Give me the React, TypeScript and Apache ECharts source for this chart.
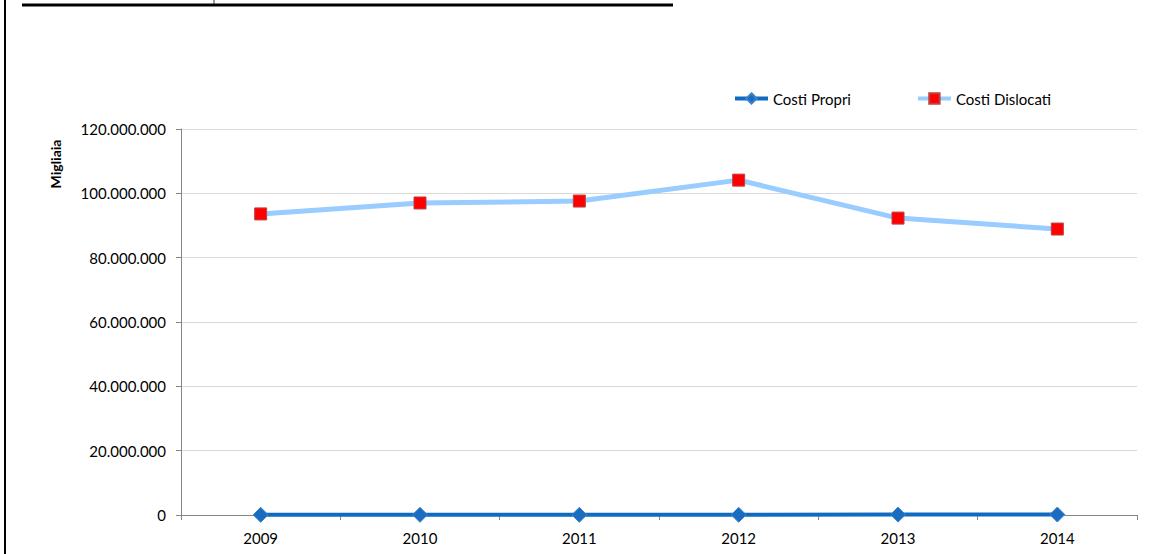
import React, { useEffect, useRef } from "react";
import * as echarts from "echarts";

const years = ["2009", "2010", "2011", "2012", "2013", "2014"];
const costiPropri = [60000, 60000, 50000, 60000, 120000, 140000];
const costiDislocati = [93600000, 97000000, 97600000, 104100000, 92300000, 88900000];
const yTicks = { min: 0, max: 120000000, interval: 20000000 };

const fmt = (v: number) => String(Math.round(v)).replace(/\B(?=(\d{3})+(?!\d))/g, ".");

export default function App() {
  const ref = useRef<HTMLDivElement>(null);
  useEffect(() => {
    if (!ref.current) return;
    const chart = echarts.init(ref.current, undefined, { renderer: "svg" });
    const font = "Lato, 'Open Sans', sans-serif";
    chart.setOption({
      animation: false,
      textStyle: { fontFamily: font },
      grid: { left: 181, right: 22, top: 129, bottom: 39 },
      legend: {
        left: 728,
        top: 86,
        itemWidth: 33,
        itemHeight: 13,
        itemGap: 65,
        lineStyle: { width: 4 },
        textStyle: { fontSize: 15, color: "#000", fontFamily: font },
        data: ["Costi Propri", "Costi Dislocati"],
      },
      xAxis: {
        type: "category",
        data: years,
        boundaryGap: true,
        axisLine: { lineStyle: { color: "#868686", width: 1 } },
        axisTick: { show: true, length: 5, inside: false, lineStyle: { color: "#868686" } },
        axisLabel: { color: "#000", fontSize: 15, margin: 15, fontFamily: font },
      },
      yAxis: {
        type: "value",
        min: yTicks.min,
        max: yTicks.max,
        interval: yTicks.interval,
        axisLine: { show: true, lineStyle: { color: "#868686" } },
        axisTick: { show: true, length: 5, lineStyle: { color: "#868686" } },
        splitLine: { lineStyle: { color: "#d9d9d9", width: 1 } },
        axisLabel: { color: "#000", fontSize: 15, margin: 15, fontFamily: font, formatter: fmt },
      },
      graphic: [
        { type: "line", shape: { x1: 22, y1: 5, x2: 673, y2: 5 }, style: { stroke: "#000", lineWidth: 3 } },
        { type: "line", shape: { x1: 214, y1: 0, x2: 214, y2: 4 }, style: { stroke: "#333", lineWidth: 1 } },
        { type: "line", shape: { x1: 5, y1: 0, x2: 5, y2: 554 }, style: { stroke: "#000", lineWidth: 2 } },
        {
          type: "text",
          x: 55,
          y: 164,
          rotation: Math.PI / 2,
          style: {
            text: "Migliaia",
            font: `bold 14px ${font}`,
            fill: "#000",
            align: "center",
            verticalAlign: "middle",
          },
        },
      ],
      series: [
        {
          name: "Costi Propri",
          type: "line",
          data: costiPropri,
          symbol: "diamond",
          symbolSize: 15,
          lineStyle: { color: "#0f6bc0", width: 4 },
          itemStyle: { color: "#1a6cc0", borderColor: "#3d82c8", borderWidth: 1 },
          z: 3,
        },
        {
          name: "Costi Dislocati",
          type: "line",
          data: costiDislocati,
          symbol: "rect",
          symbolSize: 12,
          lineStyle: { color: "#99ccff", width: 5 },
          itemStyle: { color: "#ff0000", borderColor: "#c04040", borderWidth: 1 },
          z: 2,
        },
      ],
    });
    return () => chart.dispose();
  }, []);
  return (
    <div
      ref={ref}
      style={{ position: "fixed", left: 0, top: 0, width: 1159, height: 554, background: "#fff" }}
    />
  );
}
